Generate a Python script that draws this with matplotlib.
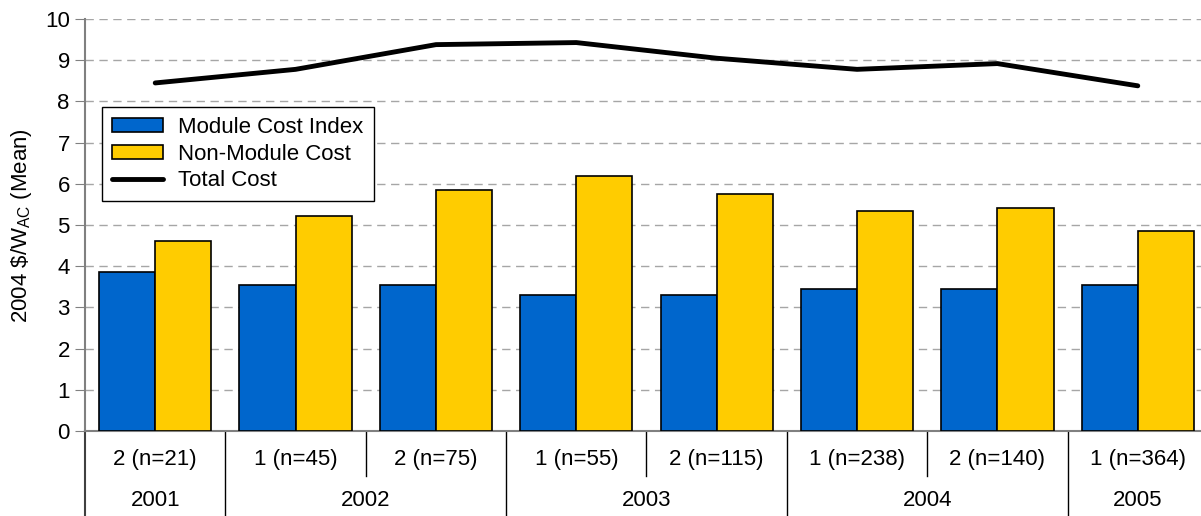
import numpy as np
import matplotlib.pyplot as plt
from matplotlib.patches import Patch
from matplotlib.lines import Line2D

plt.rcParams['font.family'] = ['Liberation Sans', 'DejaVu Sans']

# data
categories = ['2 (n=21)', '1 (n=45)', '2 (n=75)', '1 (n=55)', '2 (n=115)',
              '1 (n=238)', '2 (n=140)', '1 (n=364)']
years = ['2001', '2002', '2003', '2004', '2005']
year_sizes = [1, 2, 2, 2, 1]
module_cost = [3.87, 3.54, 3.54, 3.30, 3.30, 3.44, 3.44, 3.54]
non_module_cost = [4.62, 5.23, 5.85, 6.18, 5.75, 5.33, 5.42, 4.85]
total_cost = [8.45, 8.78, 9.38, 9.43, 9.05, 8.78, 8.92, 8.38]

blue = '#0066CC'
yellow = '#FFCC00'
fs = 16

fig = plt.figure(figsize=(12.01, 5.16), dpi=100)
# plot area runs a bit past the right edge of the image, like the original
ax = fig.add_axes([0.0708, 0.1647, 0.935, 0.7983])

x = np.arange(len(categories))
w = 0.40
ax.bar(x - w / 2, module_cost, w, color=blue, edgecolor='black', linewidth=1.2, zorder=3)
ax.bar(x + w / 2, non_module_cost, w, color=yellow, edgecolor='black', linewidth=1.2, zorder=3)
ax.plot(x, total_cost, color='black', linewidth=3.5, solid_capstyle='round', zorder=4)

ax.set_xlim(-0.5, len(categories) - 0.5)
ax.set_ylim(0, 10)
ax.set_yticks(range(0, 11))
ax.tick_params(axis='y', labelsize=fs, length=7, color='#808080', direction='out', pad=4)
ax.set_xticks([])
ax.yaxis.grid(True, linestyle=(0, (6, 4)), color='#A6A6A6', linewidth=1)
ax.set_axisbelow(True)

for s in ['top', 'right']:
    ax.spines[s].set_visible(False)
ax.spines['left'].set_color('#808080')
ax.spines['left'].set_linewidth(1.5)
ax.spines['bottom'].set_color('#808080')
ax.spines['bottom'].set_linewidth(1.5)

ax.set_ylabel('2004 \\$/W$_{\\mathregular{AC}}$ (Mean)', fontsize=fs, labelpad=8)

# two-level category axis
tr = ax.get_xaxis_transform()
for xi, lab in zip(x, categories):
    ax.text(xi, -0.068, lab, transform=tr, ha='center', va='center', fontsize=fs)

start = 0
bounds = [-0.5]
for yr, n in zip(years, year_sizes):
    mid = start + (n - 1) / 2
    ax.text(mid, -0.168, yr, transform=tr, ha='center', va='center', fontsize=fs)
    for k in range(1, n):
        ax.plot([start + k - 0.5] * 2, [0, -0.109], transform=tr, color='black',
                linewidth=1, clip_on=False)
    start += n
    bounds.append(start - 0.5)
for b in bounds:
    ax.plot([b, b], [0, -0.21], transform=tr, color='#404040' if b == -0.5 else 'black',
            linewidth=1.5 if b == -0.5 else 1, clip_on=False)

handles = [Patch(facecolor=blue, edgecolor='black', linewidth=1.2),
           Patch(facecolor=yellow, edgecolor='black', linewidth=1.2),
           Line2D([0], [0], color='black', linewidth=3.5, solid_capstyle='round')]
leg = ax.legend(handles, ['Module Cost Index', 'Non-Module Cost', 'Total Cost'],
                loc='upper left', bbox_to_anchor=(0.0152, 0.786), fontsize=fs,
                frameon=True, fancybox=False, edgecolor='black', framealpha=1,
                handlelength=2.3, handleheight=0.6, labelspacing=0.25,
                borderpad=0.45, handletextpad=0.68, borderaxespad=0)
leg.get_frame().set_linewidth(1)
leg.set_zorder(5)

fig.savefig('out.png', dpi=100)
